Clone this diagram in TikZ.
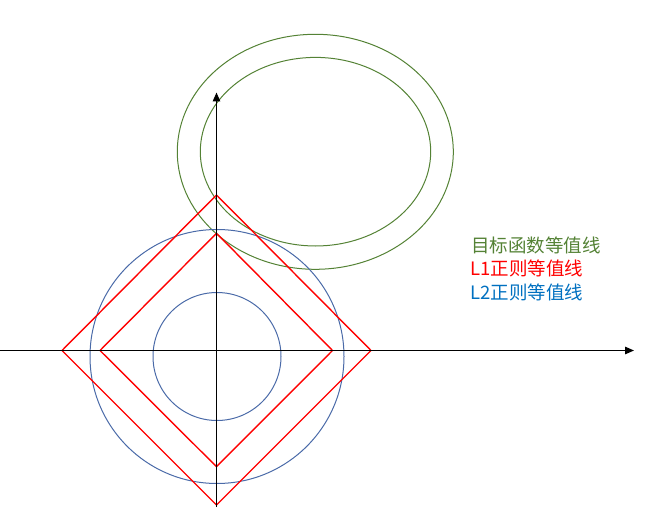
\documentclass[tikz,border=0pt]{standalone}
\usepackage{fontspec}
\newfontfamily\cjk{Noto Sans CJK SC}
\usetikzlibrary{arrows.meta}
\definecolor{egreen}{HTML}{548235}
\definecolor{cblue}{HTML}{4A6AA8}
\definecolor{tblue}{HTML}{0070C0}
\begin{document}
\begin{tikzpicture}[x=1pt,y=-1pt,
  axisline/.style={line width=1.3pt,-{Triangle[length=9pt,width=7.5pt]}},
  contour/.style={egreen,line width=1pt},
  lone/.style={red,line width=1.4pt,line join=miter},
  ltwo/.style={cblue,line width=1pt},
  legend/.style={anchor=west,inner sep=0pt,font=\cjk\fontsize{18.5}{22}\selectfont}]
\useasboundingbox (0,0) rectangle (651,508);
% objective contours
\draw[contour] (315.3,151.8) ellipse [x radius=138, y radius=117.5];
\draw[contour] (315.5,151.7) ellipse [x radius=115.2, y radius=94.3];
% L2 contours
\draw[ltwo] (217,356.5) circle [radius=127];
\draw[ltwo] (217,356.5) circle [radius=64];
% L1 contours
\draw[lone] (216.5,195) -- (371,350.5) -- (216.5,505) -- (62,350.5) -- cycle;
\draw[lone] (216.5,233.3) -- (332.5,350.5) -- (216.5,466.7) -- (100,350.5) -- cycle;
% axes
\coordinate (xs) at (0,350.5);
\coordinate (xe) at (634,350.5);
\coordinate (ys) at (216.5,507);
\coordinate (ye) at (216.5,92.5);
\draw[axisline] (xs) -- (xe);
\draw[axisline] (ys) -- (ye);
% legend
\node[legend,text=egreen] (t1) at (471,245) {目标函数等值线};
\node[legend,text=red] (t2) at (470,268.5) {L1正则等值线};
\node[legend,text=tblue] (t3) at (470,292) {L2正则等值线};
\end{tikzpicture}
\end{document}
